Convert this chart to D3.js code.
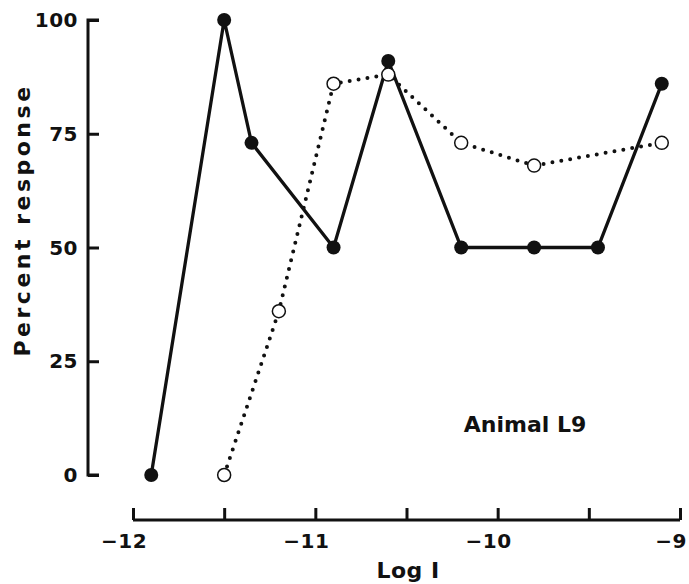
<!DOCTYPE html>
<html>
<head>
<meta charset="utf-8">
<script src="https://cdn.jsdelivr.net/npm/d3@7"></script>
<style>
  body { margin: 0; background: #fff; }
  svg text { font-family: "DejaVu Sans", sans-serif; font-weight: bold; fill: #111; }
</style>
</head>
<body>
<div class="chart"></div>
<script>
// solid line, filled circles
const filledX = [-11.9, -11.5, -11.35, -10.9, -10.6, -10.2, -9.8, -9.45, -9.1];
const filledY = [0, 100, 73, 50, 91, 50, 50, 50, 86];
// dotted line, open circles
const openX = [-11.5, -11.2, -10.9, -10.6, -10.2, -9.8, -9.1];
const openY = [0, 36, 86, 88, 73, 68, 73];

const yTicks = [0, 25, 50, 75, 100];
const xTicks = [-12, -11.5, -11, -10.5, -10, -9.5, -9];
const xLabels = [-12, -11, -10, -9];

const width = 689, height = 584;

const x = d3.scaleLinear().domain([-12, -9]).range([133, 680]);
const y = d3.scaleLinear().domain([0, 100]).range([475, 20]);

const svg = d3.select('.chart').append('svg')
  .attr('width', width)
  .attr('height', height);

const ink = '#111';

// y axis
const yAxis = svg.append('g').attr('transform', 'translate(88,0)')
  .call(d3.axisRight(y).tickValues(yTicks).tickSize(11).tickFormat(''));
yAxis.select('.domain').attr('d', `M11,${y(100)}H0V${y(0)}H11`).attr('stroke', ink).attr('stroke-width', 3);
yAxis.selectAll('.tick line').attr('stroke', ink).attr('stroke-width', 3);

svg.append('g').selectAll('text')
  .data(yTicks).enter().append('text')
  .attr('x', 78).attr('y', d => y(d))
  .attr('dy', '0.36em')
  .attr('text-anchor', 'end')
  .attr('font-size', 20)
  .attr('letter-spacing', 0.5)
  .text(d => d);

// x axis
const xAxis = svg.append('g').attr('transform', 'translate(0,520)')
  .call(d3.axisTop(x).tickValues(xTicks).tickSize(12).tickFormat(''));
xAxis.select('.domain').attr('d', `M${x(-12)},0H${x(-9)}`).attr('stroke', ink).attr('stroke-width', 3);
xAxis.selectAll('.tick line').attr('stroke', ink).attr('stroke-width', 3);

svg.append('g').selectAll('text')
  .data(xLabels).enter().append('text')
  .attr('x', d => x(d) - 9).attr('y', 548)
  .attr('text-anchor', 'middle')
  .attr('font-size', 20)
  .attr('letter-spacing', 0.5)
  .text(d => '\u2212' + Math.abs(d));

svg.append('text')
  .attr('x', 408).attr('y', 578)
  .attr('text-anchor', 'middle')
  .attr('font-size', 22)
  .attr('letter-spacing', 0.5)
  .text('Log I');

svg.append('text')
  .attr('transform', 'translate(30,220) rotate(-90)')
  .attr('text-anchor', 'middle')
  .attr('font-size', 22)
  .attr('letter-spacing', 3.5)
  .text('Percent response');

svg.append('text')
  .attr('x', 525).attr('y', 432)
  .attr('text-anchor', 'middle')
  .attr('font-size', 22)
  .text('Animal L9');

const line = d3.line().x(d => x(d[0])).y(d => y(d[1]));

const filled = filledX.map((d, i) => [d, filledY[i]]);
const open = openX.map((d, i) => [d, openY[i]]);

svg.append('path')
  .datum(open)
  .attr('d', line)
  .attr('fill', 'none')
  .attr('stroke', ink)
  .attr('stroke-width', 4)
  .attr('stroke-linecap', 'round')
  .attr('stroke-dasharray', '0 9');

svg.append('path')
  .datum(filled)
  .attr('d', line)
  .attr('fill', 'none')
  .attr('stroke', ink)
  .attr('stroke-width', 3.3);

svg.append('g').selectAll('circle')
  .data(open).enter().append('circle')
  .attr('cx', d => x(d[0])).attr('cy', d => y(d[1]))
  .attr('r', 6.5)
  .attr('fill', '#fff')
  .attr('stroke', ink)
  .attr('stroke-width', 1.5);

svg.append('g').selectAll('circle')
  .data(filled).enter().append('circle')
  .attr('cx', d => x(d[0])).attr('cy', d => y(d[1]))
  .attr('r', 7)
  .attr('fill', ink);
</script>
</body>
</html>
